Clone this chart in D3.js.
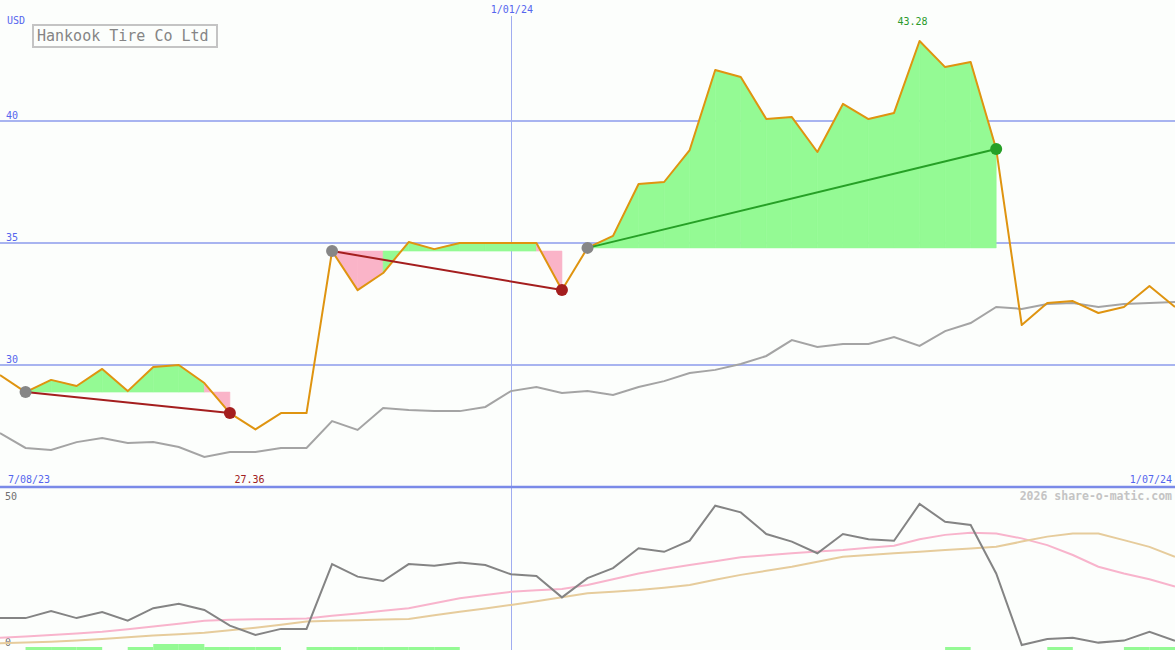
<!DOCTYPE html>
<html>
<head>
<meta charset="utf-8">
<script src="https://cdn.jsdelivr.net/npm/d3@7"></script>
<style>
  html, body { margin: 0; padding: 0; background: #fcfefc; }
  svg { display: block; }
  text { font-family: "DejaVu Sans Mono", monospace; }
</style>
</head>
<body>
<svg id="chart" width="1175" height="650"></svg>
<script>
// ---- data ----
const title = "Hankook Tire Co Ltd";
const currency = "USD";
const credit = "2026 share-o-matic.com";

// weekly closes (USD)
const price = [29.59, 28.89, 29.39, 29.14, 29.84, 28.93, 29.92, 30.00, 29.26, 28.03,
               27.36, 28.03, 28.03, 34.67, 33.07, 33.77, 35.04, 34.75, 35.00, 35.00,
               35.00, 35.00, 33.07, 34.80, 35.29, 37.42, 37.50, 38.81, 42.09, 41.80,
               40.08, 40.16, 38.73, 40.70, 40.08, 40.33, 43.28, 42.21, 42.42, 38.85,
               31.64, 32.54, 32.62, 32.13, 32.38, 33.24, 32.38];

// comparison line (grey, upper panel)
const bench = [27.21, 26.60, 26.52, 26.84, 27.01, 26.80, 26.84, 26.64, 26.23, 26.43,
               26.43, 26.60, 26.60, 27.70, 27.34, 28.24, 28.16, 28.11, 28.11, 28.28,
               28.93, 29.10, 28.85, 28.93, 28.77, 29.10, 29.34, 29.67, 29.80, 30.04,
               30.37, 31.02, 30.74, 30.86, 30.86, 31.15, 30.78, 31.39, 31.72, 32.38,
               32.30, 32.50, 32.54, 32.38, 32.50, 32.54, 32.58];

// lower panel indicator (grey) and its two averages (pink, tan)
const indicator = [9.9, 9.9, 12.3, 9.9, 12.0, 9.0, 13.3, 14.8, 12.7, 7.3,
                   4.1, 6.2, 6.2, 28.4, 24.1, 22.6, 28.4, 27.8, 28.9, 28.1,
                   24.9, 24.3, 17.0, 23.6, 27.0, 33.8, 32.6, 36.4, 48.4, 46.1,
                   38.7, 36.1, 32.1, 38.7, 36.9, 36.4, 49.0, 42.9, 41.8, 25.2,
                   0.7, 2.7, 3.2, 1.5, 2.2, 5.2, 2.1];
const avgFast = [3.2, 3.6, 4.1, 4.6, 5.2, 6.1, 7.0, 8.0, 9.0, 9.3,
                 9.5, 9.6, 9.8, 10.7, 11.5, 12.4, 13.3, 15.0, 16.7, 17.8,
                 18.9, 19.4, 19.9, 21.2, 23.2, 25.2, 26.7, 28.1, 29.4, 30.7,
                 31.4, 32.1, 32.7, 33.2, 34.0, 34.7, 36.9, 38.4, 39.1, 38.9,
                 37.2, 34.9, 31.5, 27.5, 25.2, 23.2, 20.7];
const avgSlow = [1.3, 1.5, 1.8, 2.2, 2.7, 3.3, 3.9, 4.4, 4.9, 5.7,
                 6.6, 7.6, 8.7, 9.0, 9.2, 9.4, 9.6, 10.9, 12.1, 13.2,
                 14.4, 15.7, 17.0, 18.4, 18.9, 19.5, 20.3, 21.2, 23.0, 24.7,
                 26.1, 27.5, 29.2, 30.9, 31.5, 32.1, 32.6, 33.2, 33.7, 34.3,
                 36.1, 37.8, 38.9, 38.9, 36.6, 34.3, 30.9];

// signal strip per weekly interval (0 none, 1 low, 2 high)
const signal = [0,1,1,1,0,1,2,2,1,1,1,0,1,1,1,1,1,1,0,0,
                0,0,0,0,0,0,0,0,0,0,0,0,0,0,0,0,0,1,0,0,
                0,1,0,0,1,1];

// trades: start / end week indices
const tradeStart = [1, 13, 23];
const tradeEnd   = [9, 22, 39];

// tick labels
const priceTicks = [30, 35, 40];
const lowerTicks = [0, 50];
const dateLabels = ["7/08/23", "1/01/24", "1/07/24"];
const dateIndex  = [0, 20, 46];

// ---- scales ----
const W = 1175, H = 650;
const svg = d3.select("#chart");
const x = d3.scaleLinear().domain([0, price.length - 1]).range([0, W]);
const y = d3.scaleLinear().domain([25, 40]).range([487, 121]);
const yl = d3.scaleLinear().domain([0, 50]).range([647, 501]);
const ys = d3.scaleLinear().domain([0, 2]).range([650, 644]);

const BLUE_TXT = "#5566ee";
const GRID = "#a8b4f0";

svg.append("rect").attr("width", W).attr("height", H).attr("fill", "#fcfefc");

// horizontal grid lines
svg.selectAll("line.grid").data(priceTicks).join("line")
  .attr("x1", 0).attr("x2", W)
  .attr("y1", d => y(d)).attr("y2", d => y(d))
  .attr("stroke", GRID).attr("stroke-width", 2);

// vertical date line (middle label)
svg.append("line")
  .attr("x1", Math.round(x(dateIndex[1])) + 0.5).attr("x2", Math.round(x(dateIndex[1])) + 0.5)
  .attr("y1", 16).attr("y2", H)
  .attr("stroke", "#a0acf0").attr("stroke-width", 1);

// trade fills: per interval polygons between base level and price
tradeStart.forEach((s, k) => {
  const e = tradeEnd[k];
  const base = price[s];
  for (let i = s; i < e; i++) {
    const up = price[i + 1] >= base;
    const pts = [[x(i), y(base)], [x(i + 1), y(base)], [x(i + 1), y(price[i + 1])], [x(i), y(price[i])]];
    svg.append("path")
      .attr("d", "M" + pts.map(p => p.join(",")).join("L") + "Z")
      .attr("fill", up ? "#94fa94" : "#fab4c8")
      .attr("stroke", up ? "#94fa94" : "#fab4c8")
      .attr("stroke-width", 0.6);
  }
});

const line = (arr, ys_) => d3.line().x((d, i) => x(i)).y(d => ys_(d))(arr);

// benchmark
svg.append("path").attr("d", line(bench, y)).attr("fill", "none")
  .attr("stroke", "#a4a4a4").attr("stroke-width", 2);

// price
svg.append("path").attr("d", line(price, y)).attr("fill", "none")
  .attr("stroke", "#df9410").attr("stroke-width", 2).attr("stroke-linejoin", "round");

// trade lines and dots
tradeStart.forEach((s, k) => {
  const e = tradeEnd[k];
  const gain = price[e] >= price[s];
  const col = gain ? "#26a026" : "#a41e1e";
  svg.append("line")
    .attr("x1", x(s)).attr("y1", y(price[s]))
    .attr("x2", x(e)).attr("y2", y(price[e]))
    .attr("stroke", col).attr("stroke-width", 2);
  svg.append("circle").attr("cx", x(s)).attr("cy", y(price[s])).attr("r", 6).attr("fill", "#868686");
  svg.append("circle").attr("cx", x(e)).attr("cy", y(price[e])).attr("r", 6).attr("fill", col);
});

// price tick labels
svg.selectAll("text.pt").data(priceTicks).join("text")
  .attr("x", 6).attr("y", d => y(d) - 2)
  .attr("fill", BLUE_TXT).attr("font-size", 10).text(d => d);
svg.append("text").attr("x", 7).attr("y", 24).attr("fill", BLUE_TXT)
  .attr("font-size", 10).text(currency);

// title box
svg.append("rect").attr("x", 33).attr("y", 25).attr("width", 184).attr("height", 22)
  .attr("fill", "none").attr("stroke", "#c4c4c4").attr("stroke-width", 2);
svg.append("text").attr("x", 37).attr("y", 41).attr("fill", "#858585")
  .attr("font-size", 15).text(title);

// min / max labels
const iMax = d3.maxIndex(price), iMin = d3.minIndex(price);
svg.append("text").attr("x", x(iMax) - 7).attr("y", 25).attr("text-anchor", "middle")
  .attr("fill", "#2a9a2a").attr("font-size", 10).text(price[iMax].toFixed(2));
svg.append("text").attr("x", x(iMin) - 6).attr("y", 483).attr("text-anchor", "middle")
  .attr("fill", "#a02020").attr("font-size", 10).text(price[iMin].toFixed(2));

// date labels
svg.append("text").attr("x", 8).attr("y", 483).attr("fill", BLUE_TXT)
  .attr("font-size", 10).text(dateLabels[0]);
svg.append("text").attr("x", x(dateIndex[1]) + 1).attr("y", 13).attr("text-anchor", "middle")
  .attr("fill", BLUE_TXT).attr("font-size", 10).text(dateLabels[1]);
svg.append("text").attr("x", 1172).attr("y", 483).attr("text-anchor", "end")
  .attr("fill", BLUE_TXT).attr("font-size", 10).text(dateLabels[2]);

// separator axis
svg.append("line").attr("x1", 0).attr("x2", W).attr("y1", 487).attr("y2", 487)
  .attr("stroke", "#7a8ae8").attr("stroke-width", 2.5);

svg.append("text").attr("x", 1172).attr("y", 500).attr("text-anchor", "end")
  .attr("fill", "#c4c4c4").attr("font-size", 11.5).attr("font-weight", "bold").text(credit);

// lower panel
svg.selectAll("text.lt").data(lowerTicks).join("text")
  .attr("x", 5).attr("y", d => yl(d) - 1)
  .attr("fill", "#707070").attr("font-size", 10).text(d => d);

svg.append("path").attr("d", line(avgFast, yl)).attr("fill", "none")
  .attr("stroke", "#f8b4cc").attr("stroke-width", 2);
svg.append("path").attr("d", line(avgSlow, yl)).attr("fill", "none")
  .attr("stroke", "#e6cc9c").attr("stroke-width", 2);
svg.append("path").attr("d", line(indicator, yl)).attr("fill", "none")
  .attr("stroke", "#848484").attr("stroke-width", 2);

// signal strip
svg.selectAll("rect.sig").data(signal).join("rect")
  .attr("x", (d, i) => x(i)).attr("width", (d, i) => x(i + 1) - x(i))
  .attr("y", d => ys(d)).attr("height", d => ys(0) - ys(d))
  .attr("fill", "#94fa94");
</script>
</body>
</html>
